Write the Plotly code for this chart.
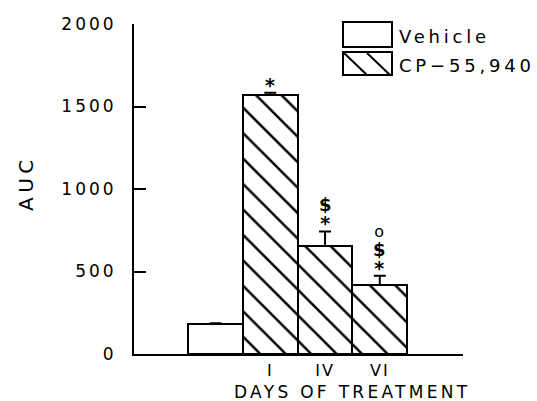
import plotly.graph_objects as go

# ---- data ----
vehicle_x = [0]
vehicle_auc = [182]
vehicle_err = [5]

cp_x = [1, 2, 3]
cp_labels = ["I", "IV", "VI"]
cp_auc = [1570, 655, 418]
cp_err = [14, 88, 56]
cp_sig = [["*"], ["*", "$"], ["*", "$", "o"]]

y_ticks = [0, 500, 1000, 1500, 2000]

FONT = "DejaVu Sans"
W, H = 537, 401
L, R, T, B = 134, 74, 24, 47


def spaced(text, ls):
    return '<span style="letter-spacing:%gpx">%s</span>' % (ls, text)


SYM_STYLE = {
    "*": "font-size:19px;font-weight:bold",
    "$": "font-size:18px;font-weight:bold",
    "o": "font-size:16px",
}

fig = go.Figure()

fig.add_trace(go.Bar(
    x=vehicle_x, y=vehicle_auc, width=1, name="Vehicle",
    marker=dict(color="white", line=dict(color="black", width=2)),
    error_y=dict(type="data", array=vehicle_err, arrayminus=[0] * len(vehicle_err),
                 symmetric=False, color="black", thickness=2, width=6),
    showlegend=False,
))
fig.add_trace(go.Bar(
    x=cp_x, y=cp_auc, width=1, name="CP-55,940",
    marker=dict(color="white", line=dict(color="black", width=2),
                pattern=dict(shape="\\", fgcolor="#000000", bgcolor="white", fgopacity=1,
                             fillmode="overlay", size=18, solidity=0.14)),
    error_y=dict(type="data", array=cp_err, arrayminus=[0] * len(cp_err),
                 symmetric=False, color="black", thickness=2, width=6),
    showlegend=False,
))

# significance markers, stacked above each error bar (one text block per bar)
for xv, yv, ev, syms in zip(cp_x, cp_auc, cp_err, cp_sig):
    lines = ['<span style="%s">%s</span>' % (SYM_STYLE[s], s) for s in reversed(syms)]
    fig.add_annotation(x=xv, y=yv + ev, text="<br>".join(lines), showarrow=False,
                       xref="x", yref="y", yanchor="bottom", yshift=-5,
                       font=dict(family=FONT, size=14.5, color="black"))

# manual legend
def px2paper(px, py):
    return (px - L) / (W - L - R), (H - B - py) / (H - T - B)


def box(x0, y0, x1, y1):
    a = px2paper(x0, y0)
    b = px2paper(x1, y1)
    fig.add_shape(type="rect", xref="paper", yref="paper", x0=a[0], y0=a[1], x1=b[0], y1=b[1],
                  line=dict(color="black", width=2), fillcolor="white")


def seg(x0, y0, x1, y1):
    a = px2paper(x0, y0)
    b = px2paper(x1, y1)
    fig.add_shape(type="line", xref="paper", yref="paper", x0=a[0], y0=a[1], x1=b[0], y1=b[1],
                  line=dict(color="black", width=2))


box(343, 22, 392, 47)
box(343, 52, 392, 75)
seg(344, 53, 367, 75)
seg(367, 53, 390, 75)

for name, yc in [("Vehicle", 36), ("CP\u221255,940", 65)]:
    px, py = px2paper(397, yc)
    fig.add_annotation(x=px, y=py, xref="paper", yref="paper", text=spaced(name, 3.8),
                       showarrow=False, xanchor="left", yanchor="middle",
                       font=dict(family=FONT, size=18, color="black"))

# x-axis title (as annotation, placed like the reference)
tx, ty = px2paper(352, 392)
fig.add_annotation(x=tx, y=ty, xref="paper", yref="paper", text=spaced("DAYS OF TREATMENT", 3.3),
                   showarrow=False, xanchor="center", yanchor="middle",
                   font=dict(family=FONT, size=17, color="black"))

# y-axis title
ax, ay = px2paper(26, 183)
fig.add_annotation(x=ax, y=ay, xref="paper", yref="paper", text=spaced("AUC", 4.5),
                   showarrow=False, xanchor="center", yanchor="middle", textangle=-90,
                   font=dict(family=FONT, size=20, color="black"))

fig.update_layout(
    width=W, height=H,
    margin=dict(l=L, r=R, t=T, b=B, pad=0),
    paper_bgcolor="white", plot_bgcolor="white",
    font=dict(family=FONT, size=16, color="black"),
    bargap=0,
    showlegend=False,
    xaxis=dict(range=[-1.49, 4.52], tickmode="array", tickvals=cp_x,
               ticktext=[spaced(t, 2) for t in cp_labels],
               ticks="", showline=True, linecolor="black", linewidth=2, showgrid=False,
               zeroline=False, ticklabelstandoff=1,
               tickfont=dict(family=FONT, size=16)),
    yaxis=dict(range=[0, 2000], tickmode="array", tickvals=y_ticks,
               ticktext=[spaced(str(v), 3) for v in y_ticks],
               ticks="inside", ticklen=12, tickwidth=2, tickcolor="black",
               showline=True, linecolor="black", linewidth=2, showgrid=False, zeroline=False,
               ticklabelstandoff=12,
               tickfont=dict(family=FONT, size=17)),
)

fig.write_html("out.html", config={"displayModeBar": False},
               post_script="document.body.style.margin='0px';")
